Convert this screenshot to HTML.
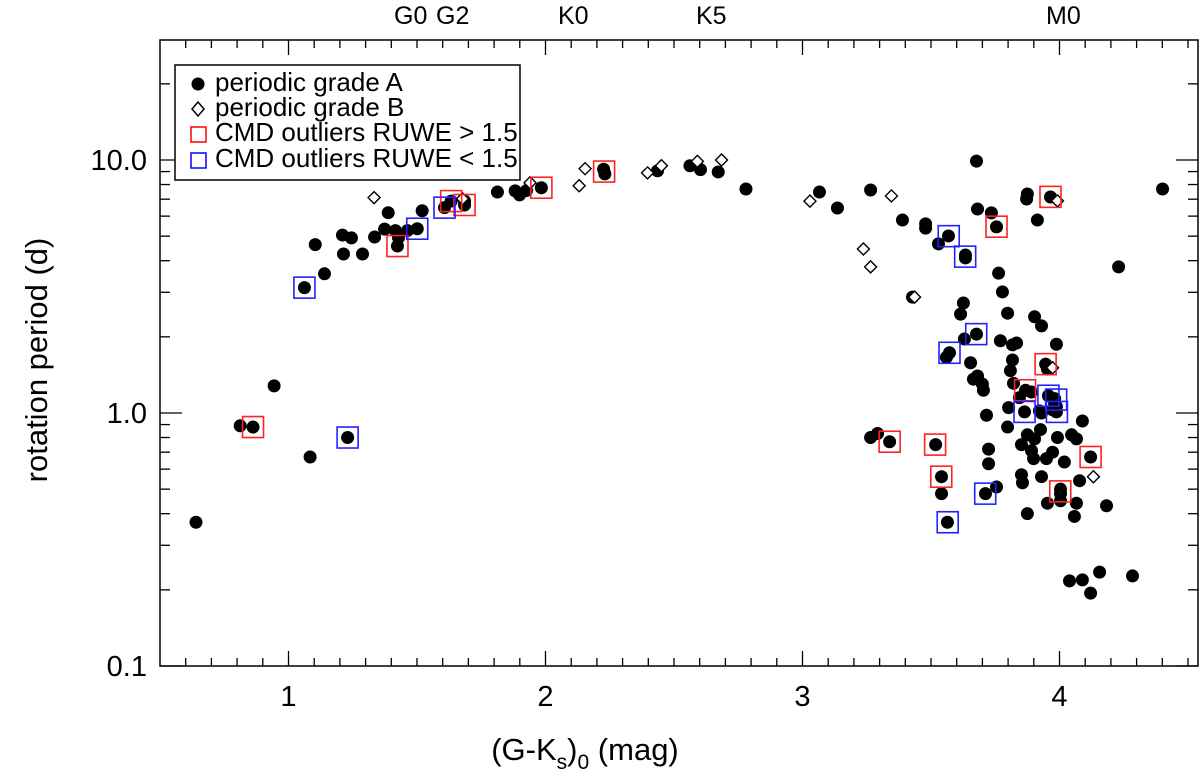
<!DOCTYPE html>
<html><head><meta charset="utf-8"><style>
html,body{margin:0;padding:0;background:#fff}
svg{display:block;font-family:"Liberation Sans",Helvetica,Arial,sans-serif}
</style></head><body>
<svg id="chart" width="1200" height="781" viewBox="0 0 1200 781">
<g id="axes"></g>
<g id="marks"></g>
<g id="legend">
  <rect x="175" y="65" width="345" height="115" fill="#fff" stroke="#000" stroke-width="1.5"/>
  <g>
    <circle cx="198" cy="84" r="6.5" fill="#000"/>
    <text x="215" y="91" font-size="26">periodic grade A</text></g>
  <g>
    <path d="M198 102 L204 109 L198 116 L192 109 Z" fill="#fff" stroke="#000" stroke-width="1.5"/>
    <text x="215" y="116" font-size="26">periodic grade B</text></g>
  <g>
    <rect x="191" y="127" width="15" height="15" fill="none" stroke="#f00" stroke-width="1.5"/>
    <text x="215" y="141" font-size="26">CMD outliers RUWE &gt; 1.5</text></g>
  <g>
    <rect x="191" y="153" width="15" height="15" fill="none" stroke="#00f" stroke-width="1.5"/>
    <text x="215" y="167" font-size="26">CMD outliers RUWE &lt; 1.5</text></g>
</g>
<g font-size="25">
  <text x="394" y="24">G0</text>
  <text x="436" y="24">G2</text>
  <text x="558" y="24">K0</text>
  <text x="696" y="24">K5</text>
  <text x="1046" y="24">M0</text>
</g>
<text transform="translate(47,360) rotate(-90)" text-anchor="middle" font-size="31">rotation period (d)</text>
<text x="585" y="760" text-anchor="middle" font-size="31">(G-K<tspan font-size="21" dy="9">s</tspan><tspan dy="-9">)</tspan><tspan font-size="21" dy="9">0</tspan><tspan dy="-9"> (mag)</tspan></text>
</svg>
<script>
const xTicks=[1,2,3,4];
const xTickLabels=["1","2","3","4"];
const yTicks=[0.1,1,10];
const yTickLabels=["0.1","1.0","10.0"];
const gradeA=[[0.64,0.37],[0.812,0.89],[0.862,0.88],[0.944,1.28],[1.084,0.67],[1.062,3.13],[1.104,4.63],[1.14,3.55],[1.21,5.05],[1.245,4.92],[1.214,4.25],[1.288,4.25],[1.335,4.96],[1.388,6.19],[1.374,5.33],[1.416,5.26],[1.428,4.93],[1.424,4.57],[1.463,5.26],[1.501,5.35],[1.52,6.3],[1.607,6.48],[1.633,6.88],[1.685,6.64],[1.685,6.88],[1.23,0.8],[1.813,7.47],[1.882,7.55],[1.899,7.28],[1.926,7.57],[1.984,7.77],[2.226,9.19],[2.231,8.81],[2.436,9.07],[2.562,9.49],[2.603,9.16],[2.672,8.97],[2.78,7.68],[3.066,7.47],
[3.677,9.9],[3.265,7.61],[3.136,6.46],[3.389,5.79],[3.479,5.59],[3.479,5.38],[3.529,4.66],[3.568,5.01],[3.634,4.21],[3.634,4.1],[3.681,6.4],[3.735,6.18],[3.755,5.44],[3.875,7.34],[3.872,7.01],[3.965,7.14],[3.914,5.79],[4.401,7.68],[4.23,3.78],[3.763,3.57],[3.778,3.01],[3.428,2.87],[3.626,2.72],[3.615,2.46],[3.798,2.48],[3.677,2.05],[3.63,1.96],[3.77,1.93],[3.817,1.86],[3.833,1.89],[3.903,2.4],[3.93,2.21],[3.988,1.87],[3.572,1.73],[3.56,1.66],[3.817,1.62],[3.654,1.58],[3.946,1.56],[3.953,1.49],[3.809,1.47],[3.681,1.4],[3.665,1.36],[3.7,1.3],[3.704,1.23],[3.821,1.31],[3.868,1.23],[3.891,1.21],[3.844,1.15],[3.957,1.17],[3.981,1.14],[3.981,1.09],[3.988,1.06],[3.802,1.05],[3.864,1.01],[3.922,1.02],[3.93,1.0],[3.973,1.03],[3.988,1.01],[3.716,0.98],[4.089,0.93],[3.798,0.88],[3.926,0.86],[3.875,0.82],[3.903,0.79],[3.992,0.8],[4.047,0.82],[4.066,0.79],[3.265,0.8],[3.292,0.83],[3.339,0.77],[3.518,0.75],[3.724,0.72],[3.852,0.75],[3.891,0.71],[3.899,0.66],[3.949,0.66],[3.973,0.7],[4.019,0.64],[4.121,0.67],[3.724,0.63],[3.852,0.57],[3.856,0.53],[3.93,0.56],[4.078,0.54],[3.541,0.56],[3.755,0.51],[4.004,0.5],[4.004,0.48],[4.004,0.45],[3.953,0.44],[4.066,0.44],[4.183,0.43],[3.541,0.48],[3.712,0.48],[3.875,0.4],[4.058,0.39],[3.564,0.37],[4.039,0.217],[4.089,0.219],[4.156,0.235],[4.121,0.194],[4.284,0.227]];
const gradeB=[[1.333,7.1],[1.677,7.03],[1.94,8.13],[2.131,7.91],[2.154,9.24],[2.397,8.89],[2.451,9.49],[2.591,9.88],[2.685,10.0],[3.029,6.88],[3.346,7.21],[3.237,4.45],[3.265,3.78],[3.436,2.87],[3.992,6.89],[3.973,1.51],[4.132,0.56]];
const ruweHigh=[[0.862,0.88],[1.424,4.57],[1.633,6.88],[1.685,6.64],[1.984,7.77],[2.228,9.0],[3.339,0.77],[3.516,0.75],[3.54,0.56],[3.755,5.45],[3.965,7.15],[3.946,1.56],[3.866,1.23],[4.121,0.67],[4.003,0.49]];
const ruweLow=[[1.062,3.13],[1.501,5.35],[1.607,6.48],[1.23,0.8],[3.569,5.0],[3.633,4.15],[3.676,2.05],[3.572,1.73],[3.957,1.17],[3.987,1.13],[3.99,1.01],[3.864,1.01],[3.711,0.48],[3.565,0.37]];

const L=160,R=1198,T=40,B=666;
const xMin=0.5,xMax=0.5+(R-L)/257;
const yMinL=-1,yMaxL=-1+(B-T)/253;
const sx=v=>L+(v-xMin)/(xMax-xMin)*(R-L);
const sy=v=>B-(Math.log10(v)-yMinL)/(yMaxL-yMinL)*(B-T);
const NS="http://www.w3.org/2000/svg";
function mk(tag,attrs,parent){const e=document.createElementNS(NS,tag);for(const k in attrs)e.setAttribute(k,attrs[k]);parent.appendChild(e);return e;}
const axes=document.getElementById('axes'),marks=document.getElementById('marks');
const frame=mk('rect',{x:L,y:T,width:R-L,height:B-T,fill:'none',stroke:'#000','stroke-width':1.5},axes);


for(let i=6;i<=45;i++){const v=i/10;if(v>xMax)break;const X=sx(v);const major=(i%10===0);const len=major?15:8;
 const t1=mk('line',{x1:X,x2:X,y1:B,y2:B-len,stroke:'#000','stroke-width':1.3},axes);
 
 
 const t2=mk('line',{x1:X,x2:X,y1:T,y2:T+len,stroke:'#000','stroke-width':1.3},axes);
 
 }
xTicks.forEach((v,i)=>{const t=mk('text',{x:sx(v),y:706,'text-anchor':'middle','font-size':29},axes);t.textContent=xTickLabels[i];
 
 });
for(let d=-1;d<=1;d++){for(let m=1;m<=9;m++){const v=m*Math.pow(10,d);const Y=sy(v);if(Y<T)continue;const major=m===1;const len=major?22:10;
 const a=mk('line',{x1:L,x2:L+len,y1:Y,y2:Y,stroke:'#000','stroke-width':1.3},axes);
 
 
 const b=mk('line',{x1:R,x2:R-len,y1:Y,y2:Y,stroke:'#000','stroke-width':1.3},axes);
 
 }}
yTicks.forEach((v,i)=>{const t=mk('text',{x:147,y:sy(v)+10,'text-anchor':'end','font-size':29},axes);t.textContent=yTickLabels[i];
 
 });
gradeA.forEach(p=>{const c=mk('circle',{cx:sx(p[0]),cy:sy(p[1]),r:6.5,fill:'#000'},marks);
 
 });
gradeB.forEach(p=>{const X=sx(p[0]),Y=sy(p[1]);const d=mk('path',{d:`M${X} ${Y-6}L${X+6} ${Y}L${X} ${Y+6}L${X-6} ${Y}Z`,fill:'#fff',stroke:'#000','stroke-width':1.4},marks);
 
 });
ruweHigh.forEach(p=>{const r=mk('rect',{x:sx(p[0])-10.5,y:sy(p[1])-10.5,width:21,height:21,fill:'none',stroke:'#f22','stroke-width':1.6},marks);
 
 });
ruweLow.forEach(p=>{const r=mk('rect',{x:sx(p[0])-10.5,y:sy(p[1])-10.5,width:21,height:21,fill:'none',stroke:'#22f','stroke-width':1.6},marks);
 
 });
</script>
</body></html>
